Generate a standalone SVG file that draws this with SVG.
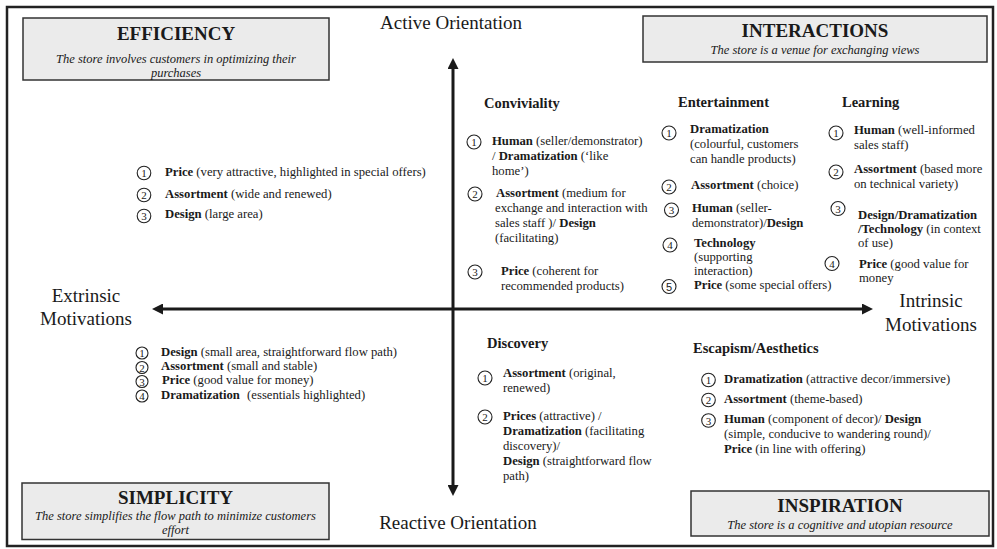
<svg xmlns="http://www.w3.org/2000/svg" width="997" height="549" viewBox="0 0 997 549">
<style>
text{font-family:"Liberation Serif","Times New Roman",serif;fill:#1a1a1a}
.b{font-weight:bold}
.body{font-size:12.7px}
.hd{font-size:14.5px;font-weight:bold}
.ax{font-size:19px}
.tt{font-size:19px;font-weight:bold}
.sub{font-size:12.5px;font-style:italic}
.c{fill:none;stroke:#222;stroke-width:1.1}
.d{font-family:"Liberation Serif","Times New Roman",serif;font-size:11px;text-anchor:middle}
.mid{text-anchor:middle}
.box{fill:#ebebeb;stroke:#333;stroke-width:1.5}
.axis{stroke:#1a1a1a;stroke-width:3;fill:none}
</style>
<defs>
<marker id="arr" viewBox="0 0 11 11" refX="5" refY="5.5" markerWidth="11" markerHeight="11" markerUnits="userSpaceOnUse" orient="auto-start-reverse">
<path d="M0,0 L11,5.5 L0,11 z" fill="#1a1a1a"/>
</marker>
</defs>
<rect x="7" y="7" width="986" height="539" fill="#fff" stroke="#222" stroke-width="2.5"/>

<g id="connectors">
<line class="axis" x1="453" y1="64" x2="453" y2="490" marker-start="url(#arr)" marker-end="url(#arr)"/>
<line class="axis" x1="158" y1="309" x2="867" y2="309" marker-start="url(#arr)" marker-end="url(#arr)"/>
</g>

<g id="efficiency">
<rect class="box" x="23" y="18" width="306" height="62"/>
<text class="tt mid" x="176" y="40">EFFICIENCY</text>
<text class="sub mid" x="176" y="63">The store involves customers in optimizing their</text>
<text class="sub mid" x="176" y="77">purchases</text>
</g>

<g id="interactions">
<rect class="box" x="643" y="16" width="344" height="46"/>
<text class="tt mid" x="815" y="37">INTERACTIONS</text>
<text class="sub mid" x="815" y="54">The store is a venue for exchanging views</text>
</g>

<g id="simplicity">
<rect class="box" x="22" y="483" width="307" height="56.5"/>
<text class="tt mid" x="175.5" y="504">SIMPLICITY</text>
<text class="sub mid" x="175.5" y="519.5">The store simplifies the flow path to minimize customers</text>
<text class="sub mid" x="175.5" y="533.5">effort</text>
</g>

<g id="inspiration">
<rect class="box" x="691" y="491" width="298" height="45"/>
<text class="tt mid" x="840" y="512">INSPIRATION</text>
<text class="sub mid" x="840" y="528.5">The store is a cognitive and utopian resource</text>
</g>

<g id="active-orientation"><text class="ax mid" x="451" y="29">Active Orientation</text></g>
<g id="reactive-orientation"><text class="ax mid" x="458" y="529">Reactive Orientation</text></g>
<g id="extrinsic"><text class="ax mid" x="86" y="302">Extrinsic</text><text class="ax mid" x="86" y="325">Motivations</text></g>
<g id="intrinsic"><text class="ax mid" x="931" y="307">Intrinsic</text><text class="ax mid" x="931" y="331">Motivations</text></g>

<g id="efficiency-list">
<circle class="c" cx="144" cy="173" r="6.8"/><text class="d" x="144" y="177">1</text>
<text class="body" x="165" y="176"><tspan class="b">Price</tspan> (very attractive, highlighted in special offers)</text>
<circle class="c" cx="144" cy="195" r="6.8"/><text class="d" x="144" y="199">2</text>
<text class="body" x="165" y="198"><tspan class="b">Assortment</tspan> (wide and renewed)</text>
<circle class="c" cx="144" cy="216" r="6.8"/><text class="d" x="144" y="220">3</text>
<text class="body" x="165" y="218"><tspan class="b">Design</tspan> (large area)</text>
</g>

<g id="simplicity-list">
<circle class="c" cx="142" cy="353" r="6"/><text class="d" x="142" y="357">1</text>
<text class="body" x="161" y="356"><tspan class="b">Design</tspan> (small area, straightforward flow path)</text>
<circle class="c" cx="142" cy="367.5" r="6"/><text class="d" x="142" y="371.5">2</text>
<text class="body" x="161" y="370"><tspan class="b">Assortment</tspan> (small and stable)</text>
<circle class="c" cx="142" cy="381.5" r="6"/><text class="d" x="142" y="385.5">3</text>
<text class="body" x="162" y="384"><tspan class="b">Price</tspan> (good value for money)</text>
<circle class="c" cx="142" cy="396" r="6"/><text class="d" x="142" y="400">4</text>
<text class="body" x="161" y="399"><tspan class="b">Dramatization</tspan><tspan dx="4"> (essentials highlighted)</tspan></text>
</g>

<g id="conviviality">
<text class="hd" x="484" y="108">Conviviality</text>
<circle class="c" cx="474" cy="142" r="7"/><text class="d" x="474" y="146">1</text>
<text class="body" x="492" y="145"><tspan class="b">Human</tspan> (seller/demonstrator)</text>
<text class="body" x="492" y="160">/ <tspan class="b">Dramatization</tspan> (‘like</text>
<text class="body" x="492" y="175">home’)</text>
<circle class="c" cx="475" cy="194" r="7"/><text class="d" x="475" y="198">2</text>
<text class="body" x="496" y="197"><tspan class="b">Assortment</tspan> (medium for</text>
<text class="body" x="495" y="212">exchange and interaction with</text>
<text class="body" x="495" y="227">sales staff )/ <tspan class="b">Design</tspan></text>
<text class="body" x="495" y="242">(facilitating)</text>
<circle class="c" cx="475" cy="272" r="7"/><text class="d" x="475" y="276">3</text>
<text class="body" x="501" y="275"><tspan class="b">Price</tspan> (coherent for</text>
<text class="body" x="501" y="290">recommended products)</text>
</g>

<g id="entertainment">
<text class="hd" x="678" y="107">Entertainment</text>
<circle class="c" cx="669" cy="133" r="7"/><text class="d" x="669" y="137">1</text>
<text class="body" x="690" y="133"><tspan class="b">Dramatization</tspan></text>
<text class="body" x="690" y="148">(colourful, customers</text>
<text class="body" x="690" y="163">can handle products)</text>
<circle class="c" cx="669" cy="187" r="7"/><text class="d" x="669" y="191">2</text>
<text class="body" x="691" y="189"><tspan class="b">Assortment</tspan> (choice)</text>
<circle class="c" cx="671.5" cy="210" r="7"/><text class="d" x="671.5" y="214">3</text>
<text class="body" x="692" y="212"><tspan class="b">Human</tspan> (seller-</text>
<text class="body" x="692" y="227">demonstrator)/<tspan class="b">Design</tspan></text>
<circle class="c" cx="670" cy="245" r="7"/><text class="d" x="670" y="249">4</text>
<text class="body" x="694" y="247"><tspan class="b">Technology</tspan></text>
<text class="body" x="694" y="261">(supporting</text>
<text class="body" x="694" y="275">interaction)</text>
<circle class="c" cx="669" cy="286.5" r="7"/><text class="d" x="669" y="290.5" style="font-family:'Liberation Sans',Arial,sans-serif">5</text>
<text class="body" x="694" y="289"><tspan class="b">Price</tspan> (some special offers)</text>
</g>

<g id="learning">
<text class="hd" x="842" y="107">Learning</text>
<circle class="c" cx="836" cy="133" r="7"/><text class="d" x="836" y="137">1</text>
<text class="body" x="854" y="134"><tspan class="b">Human</tspan> (well-informed</text>
<text class="body" x="854" y="149">sales staff)</text>
<circle class="c" cx="836" cy="172" r="7"/><text class="d" x="836" y="176">2</text>
<text class="body" x="854" y="173"><tspan class="b">Assortment</tspan> (based more</text>
<text class="body" x="854" y="188">on technical variety)</text>
<circle class="c" cx="838" cy="208.5" r="7"/><text class="d" x="838" y="212.5">3</text>
<text class="body" x="858" y="219"><tspan class="b">Design/Dramatization</tspan></text>
<text class="body" x="858" y="233"><tspan class="b">/Technology</tspan> (in context</text>
<text class="body" x="858" y="247">of use)</text>
<circle class="c" cx="832" cy="263.5" r="7"/><text class="d" x="832" y="267.5">4</text>
<text class="body" x="859" y="268"><tspan class="b">Price</tspan> (good value for</text>
<text class="body" x="859" y="282">money</text>
</g>

<g id="discovery">
<text class="hd" x="487" y="348">Discovery</text>
<circle class="c" cx="485" cy="378" r="7"/><text class="d" x="485" y="382">1</text>
<text class="body" x="503" y="377"><tspan class="b">Assortment</tspan> (original,</text>
<text class="body" x="503" y="392">renewed)</text>
<circle class="c" cx="485" cy="417" r="7"/><text class="d" x="485" y="421">2</text>
<text class="body" x="503" y="420"><tspan class="b">Prices</tspan> (attractive) /</text>
<text class="body" x="503" y="435"><tspan class="b">Dramatization</tspan> (facilitating</text>
<text class="body" x="503" y="450">discovery)/</text>
<text class="body" x="503" y="465"><tspan class="b">Design</tspan> (straightforward flow</text>
<text class="body" x="503" y="480">path)</text>
</g>

<g id="escapism">
<text class="hd" x="693" y="353">Escapism/Aesthetics</text>
<circle class="c" cx="708.5" cy="380" r="6.8"/><text class="d" x="708.5" y="384">1</text>
<text class="body" x="724" y="383"><tspan class="b">Dramatization</tspan> (attractive decor/immersive)</text>
<circle class="c" cx="708.5" cy="400" r="6.8"/><text class="d" x="708.5" y="404">2</text>
<text class="body" x="724" y="403"><tspan class="b">Assortment</tspan> (theme-based)</text>
<circle class="c" cx="708.5" cy="420.5" r="6.8"/><text class="d" x="708.5" y="424.5">3</text>
<text class="body" x="724" y="423"><tspan class="b">Human</tspan> (component of decor)/ <tspan class="b">Design</tspan></text>
<text class="body" x="724" y="438">(simple, conducive to wandering round)/</text>
<text class="body" x="724" y="453"><tspan class="b">Price</tspan> (in line with offering)</text>
</g>
</svg>
